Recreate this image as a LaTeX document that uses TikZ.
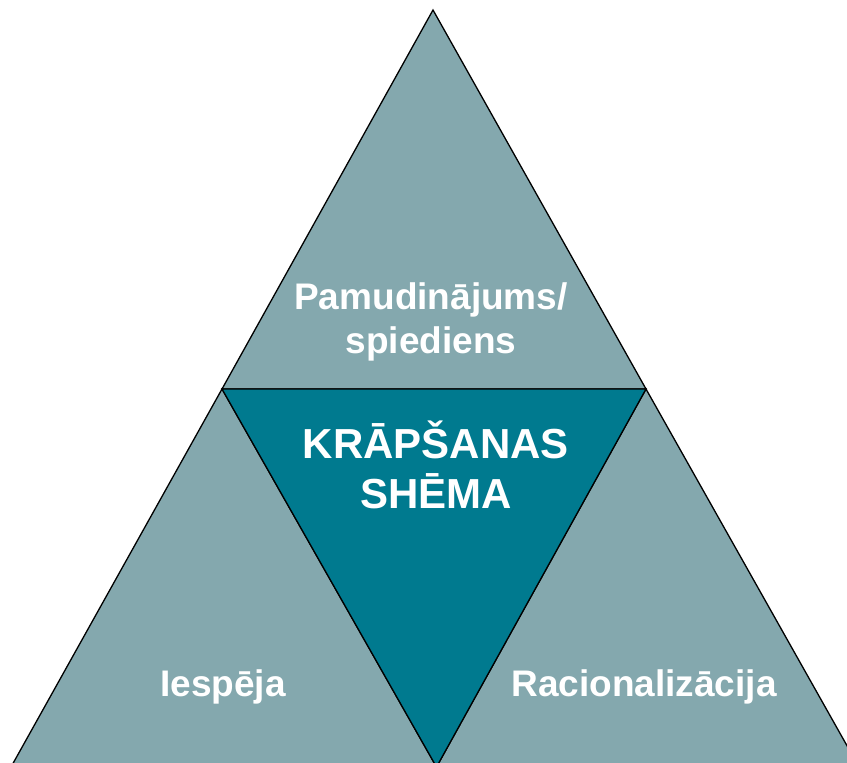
\documentclass[tikz,border=0pt]{standalone}
\usepackage{fontspec}
\setmainfont{Liberation Sans}
\definecolor{lightfill}{RGB}{132,168,174}
\definecolor{darkfill}{RGB}{0,122,143}
\begin{document}
\begin{tikzpicture}[x=1pt,y=-1pt,
  side/.style={fill=lightfill,draw=black,line width=1.3pt,line join=miter},
  center/.style={fill=darkfill,draw=black,line width=1.3pt,line join=miter},
  lbl/.style={text=white,font=\bfseries\fontsize{37}{44}\selectfont,align=center,inner sep=0pt,anchor=base},
  clbl/.style={text=white,font=\bfseries\fontsize{42}{50}\selectfont,align=center,inner sep=0pt,anchor=base}]
\useasboundingbox (0,0) rectangle (847,763);
\clip (0,0) rectangle (847,763);
\coordinate (A) at (433,10);
\coordinate (B) at (222,389);
\coordinate (C) at (646,389);
\coordinate (L) at (11,767);
\coordinate (M) at (436.5,767);
\coordinate (R) at (859,767);
\filldraw[side] (A) -- (B) -- (C) -- cycle;
\filldraw[side] (B) -- (L) -- (M) -- cycle;
\filldraw[side] (C) -- (M) -- (R) -- cycle;
\filldraw[center] (B) -- (C) -- (M) -- cycle;
\node[lbl] (top) at (431,353) {Pamudinājums/\\spiediens};
\node[clbl] (mid) at (436,508) {KRĀPŠANAS\\SHĒMA};
\node[lbl] (left) at (223,696) {Iespēja};
\node[lbl] (right) at (644,696) {Racionalizācija};
\end{tikzpicture}
\end{document}
